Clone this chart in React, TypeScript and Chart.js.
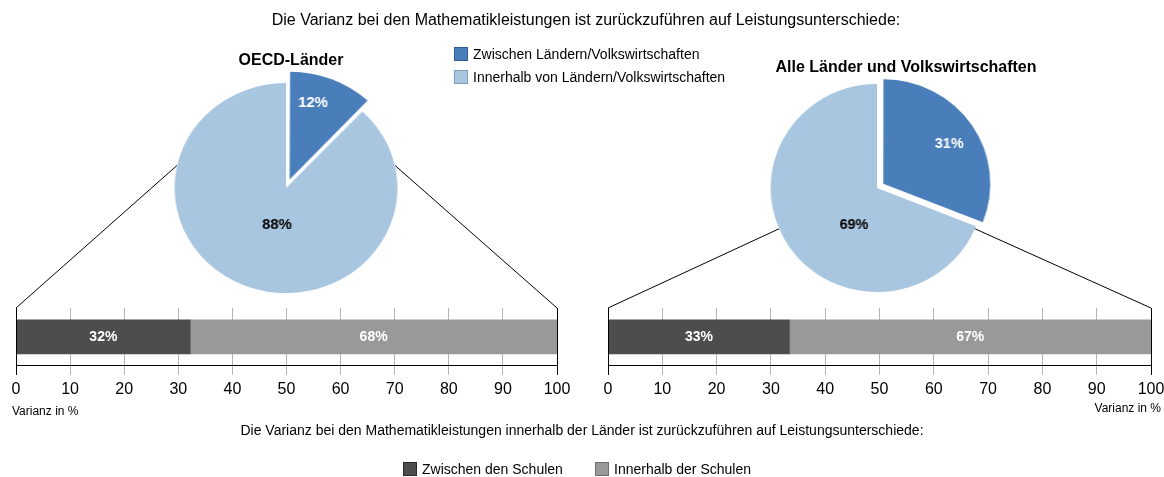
import React, { useEffect, useRef } from "react";
import { Chart, registerables } from "chart.js";

Chart.register(...registerables);

// ---------- data ----------
const mainTitle =
  "Die Varianz bei den Mathematikleistungen ist zurückzuführen auf Leistungsunterschiede:";
const subTitle =
  "Die Varianz bei den Mathematikleistungen innerhalb der Länder ist zurückzuführen auf Leistungsunterschiede:";
const pieGroups = ["OECD-Länder", "Alle Länder und Volkswirtschaften"];
const pieCategories = [
  "Zwischen Ländern/Volkswirtschaften",
  "Innerhalb von Ländern/Volkswirtschaften",
];
const oecdPieValues = [12, 88];
const allPieValues = [31, 69];
const barCategories = ["Zwischen den Schulen", "Innerhalb der Schulen"];
const oecdBarValues = [32.2, 67.8];
const allBarValues = [33.4, 66.6];
const axisTicks = [0, 10, 20, 30, 40, 50, 60, 70, 80, 90, 100];
const axisTitle = "Varianz in %";

// ---------- styles ----------
const FONT = "'Liberation Sans', Arial, Helvetica, sans-serif";
const PIE_COLORS = ["#4A7EBB", "#A9C6E0"];
const PIE_BORDERS = ["#2E5C92", "#7F9DB9"];
const BAR_COLORS = ["#4D4D4D", "#999999"];
const BAR_BORDERS = ["#2A2A2A", "#6E6E6E"];
const GRID_GREY = "#b4b4b4";
const TICK_LEN = 9;

const PIE_SIZE = 260;
const pieLayouts = [
  { cx: 286, cy: 188, radius: 105, sx: 1.063, shift: 12, elev: 12.4, labelOffsets: [[27, -85], [-9, 37]] },
  { cx: 877, cy: 188, radius: 104, sx: 1.02, shift: 8, elev: -23, labelOffsets: [[72, -44], [-23, 37]] },
];
const BAR_PAD = 20;
const barLayouts = [
  { left: 16, right: 557, top: 308 },
  { left: 608, right: 1151, top: 308 },
];
const TICK_PAD = 5;
const BAR_CANVAS_H = 96;

function offsetFor(values: number[], shift: number) {
  const total = values.reduce((a, b) => a + b, 0);
  const circ = (values[0] / total) * Math.PI * 2;
  const fix = 1 - Math.sin(Math.min(Math.PI, circ));
  return (shift * 4) / (1 + fix);
}

const pieLabelPlugin = {
  id: "pieLabels",
  afterDatasetsDraw(chart: any, _args: any, opts: any) {
    const meta = chart.getDatasetMeta(0);
    const data = chart.data.datasets[0].data as number[];
    const ctx = chart.ctx;
    ctx.save();
    ctx.font = `bold 14px ${FONT}`;
    ctx.textAlign = "center";
    ctx.textBaseline = "middle";
    meta.data.forEach((arc: any, i: number) => {
      const [dx, dy] = opts.offsets[i];
      ctx.fillStyle = opts.colors[i];
      ctx.fillText(`${Math.round(data[i])}%`, arc.x + dx / opts.sx, arc.y + dy);
    });
    ctx.restore();
  },
};

const barLabelPlugin = {
  id: "barLabels",
  afterDatasetsDraw(chart: any) {
    const ctx = chart.ctx;
    const area = chart.chartArea;
    const xs = chart.scales.x;
    ctx.save();
    // black frame lines at 0 and 100
    ctx.strokeStyle = "#000";
    ctx.lineWidth = 1;
    [xs.min, xs.max].forEach((v: number) => {
      const px = Math.round(xs.getPixelForValue(v)) + 0.5;
      ctx.beginPath();
      ctx.moveTo(px, area.top);
      ctx.lineTo(px, area.bottom + TICK_LEN);
      ctx.stroke();
    });
    ctx.font = `bold 14px ${FONT}`;
    ctx.textAlign = "center";
    ctx.textBaseline = "middle";
    ctx.fillStyle = "#fff";
    chart.data.datasets.forEach((ds: any, i: number) => {
      const el = chart.getDatasetMeta(i).data[0];
      if (!el) return;
      ctx.fillText(`${Math.round(ds.data[0])}%`, (el.x + el.base) / 2, el.y);
    });
    ctx.restore();
  },
};

function makePie(canvas: HTMLCanvasElement, values: number[], layout: any) {
  return new Chart(canvas, {
    type: "pie",
    data: {
      labels: pieCategories,
      datasets: [
        {
          data: values,
          backgroundColor: PIE_COLORS,
          borderWidth: 0,
          radius: layout.radius,
          offset: [offsetFor(values, layout.shift), 0],
          hoverOffset: 0,
        } as any,
      ],
    },
    options: {
      animation: false,
      responsive: false,
      events: [],
      layout: { padding: 0 },
      plugins: {
        legend: { display: false },
        tooltip: { enabled: false },
        pieLabels: { offsets: layout.labelOffsets, colors: ["#ffffff", "#000000"], sx: layout.sx },
      } as any,
    },
    plugins: [pieLabelPlugin],
  });
}

function makeBar(canvas: HTMLCanvasElement, values: number[]) {
  return new Chart(canvas, {
    type: "bar",
    data: {
      labels: [""],
      datasets: barCategories.map((name, i) => ({
        label: name,
        data: [values[i]],
        backgroundColor: BAR_COLORS[i],
        borderWidth: 0,
        barThickness: 34,
      })),
    },
    options: {
      indexAxis: "y",
      animation: false,
      responsive: false,
      events: [],
      layout: { padding: { left: BAR_PAD, right: BAR_PAD, top: 0, bottom: 0 } },
      plugins: { legend: { display: false }, tooltip: { enabled: false } },
      scales: {
        x: {
          type: "linear",
          stacked: true,
          min: axisTicks[0],
          max: axisTicks[axisTicks.length - 1],
          afterBuildTicks: (scale: any) => {
            scale.ticks = axisTicks.map((v) => ({ value: v }));
          },
          ticks: {
            font: { family: FONT, size: 16 },
            color: "#000",
            padding: TICK_PAD,
            maxRotation: 0,
            autoSkip: false,
          },
          grid: {
            color: (c: any) =>
              c.tick && (c.tick.value === 0 || c.tick.value === 100) ? "#000" : GRID_GREY,
            tickLength: TICK_LEN,
            lineWidth: 1,
          },
          border: { display: true, color: "#000", width: 1 },
        },
        y: { stacked: true, display: false },
      },
    } as any,
    plugins: [barLabelPlugin],
  });
}

const abs = (extra: React.CSSProperties): React.CSSProperties => ({
  position: "absolute",
  whiteSpace: "nowrap",
  lineHeight: 1,
  ...extra,
});

function Swatch({ x, y, color, border }: { x: number; y: number; color: string; border: string }) {
  return (
    <div
      style={{
        position: "absolute",
        left: x,
        top: y - 7,
        width: 12,
        height: 12,
        background: color,
        border: `1px solid ${border}`,
      }}
    />
  );
}

export default function App() {
  const overlayRef = useRef<HTMLCanvasElement>(null);
  const pie1Ref = useRef<HTMLCanvasElement>(null);
  const pie2Ref = useRef<HTMLCanvasElement>(null);
  const bar1Ref = useRef<HTMLCanvasElement>(null);
  const bar2Ref = useRef<HTMLCanvasElement>(null);

  useEffect(() => {
    const pies = [
      makePie(pie1Ref.current!, oecdPieValues, pieLayouts[0]),
      makePie(pie2Ref.current!, allPieValues, pieLayouts[1]),
    ];
    const bars = [
      makeBar(bar1Ref.current!, oecdBarValues),
      makeBar(bar2Ref.current!, allBarValues),
    ];

    // connector lines from pie edge to the ends of the bar
    const ov = overlayRef.current!;
    const ctx = ov.getContext("2d")!;
    ctx.clearRect(0, 0, ov.width, ov.height);
    ctx.strokeStyle = "#000";
    ctx.lineWidth = 1;
    pies.forEach((pie, i) => {
      const lay = pieLayouts[i];
      const arc: any = pie.getDatasetMeta(0).data[1];
      const left = lay.cx - (PIE_SIZE * lay.sx) / 2;
      const top = lay.cy - PIE_SIZE / 2;
      const pcx = left + arc.x * lay.sx;
      const pcy = top + arc.y;
      const rx = arc.outerRadius * lay.sx;
      const ry = arc.outerRadius;
      const e = (lay.elev * Math.PI) / 180;
      const bar: any = bars[i];
      const bl = barLayouts[i];
      const ox = bl.left - BAR_PAD;
      const oy = bl.top;
      const x0 = ox + bar.scales.x.getPixelForValue(0);
      const x1 = ox + bar.scales.x.getPixelForValue(100);
      const yTop = oy + bar.chartArea.top;
      ctx.beginPath();
      ctx.moveTo(x0, yTop);
      ctx.lineTo(pcx - rx * Math.cos(e), pcy - ry * Math.sin(e));
      ctx.moveTo(x1, yTop);
      ctx.lineTo(pcx + rx * Math.cos(e), pcy - ry * Math.sin(e));
      ctx.stroke();
    });

    return () => {
      pies.forEach((c) => c.destroy());
      bars.forEach((c) => c.destroy());
    };
  }, []);

  return (
    <div
      style={{
        position: "fixed",
        left: 0,
        top: 0,
        width: 1164,
        height: 477,
        overflow: "hidden",
        background: "#fff",
        fontFamily: FONT,
        color: "#000",
      }}
    >
      <canvas ref={overlayRef} width={1164} height={477} style={{ position: "absolute", left: 0, top: 0 }} />
      {[pie1Ref, pie2Ref].map((ref, i) => (
        <canvas
          key={"p" + i}
          ref={ref}
          width={PIE_SIZE}
          height={PIE_SIZE}
          style={{
            position: "absolute",
            left: pieLayouts[i].cx - (PIE_SIZE * pieLayouts[i].sx) / 2,
            top: pieLayouts[i].cy - PIE_SIZE / 2,
            width: PIE_SIZE * pieLayouts[i].sx,
            height: PIE_SIZE,
          }}
        />
      ))}
      {[bar1Ref, bar2Ref].map((ref, i) => {
        const w = barLayouts[i].right - barLayouts[i].left + 2 * BAR_PAD;
        return (
          <canvas
            key={"b" + i}
            ref={ref}
            width={w}
            height={BAR_CANVAS_H}
            style={{
              position: "absolute",
              left: barLayouts[i].left - BAR_PAD,
              top: barLayouts[i].top,
              width: w,
              height: BAR_CANVAS_H,
            }}
          />
        );
      })}

      <div style={abs({ left: 586, top: 20, fontSize: 16, transform: "translate(-50%,-50%)" })}>{mainTitle}</div>
      <div style={abs({ left: 291, top: 60, fontSize: 16, fontWeight: "bold", transform: "translate(-50%,-50%)" })}>
        {pieGroups[0]}
      </div>
      <div style={abs({ left: 906, top: 67, fontSize: 16, fontWeight: "bold", transform: "translate(-50%,-50%)" })}>
        {pieGroups[1]}
      </div>

      {pieCategories.map((name, i) => (
        <React.Fragment key={"pl" + i}>
          <Swatch x={454} y={54 + i * 23} color={PIE_COLORS[i]} border={PIE_BORDERS[i]} />
          <div style={abs({ left: 473, top: 54 + i * 23, fontSize: 14, transform: "translateY(-50%)" })}>{name}</div>
        </React.Fragment>
      ))}

      <div style={abs({ left: 12, top: 411, fontSize: 12, transform: "translateY(-50%)" })}>{axisTitle}</div>
      <div style={abs({ right: 3, top: 408, fontSize: 12, transform: "translateY(-50%)" })}>{axisTitle}</div>
      <div style={abs({ left: 582, top: 430, fontSize: 14, transform: "translate(-50%,-50%)" })}>{subTitle}</div>

      {barCategories.map((name, i) => (
        <React.Fragment key={"bl" + i}>
          <Swatch x={[403, 595][i]} y={469} color={BAR_COLORS[i]} border={BAR_BORDERS[i]} />
          <div style={abs({ left: [422, 614][i], top: 469, fontSize: 14, transform: "translateY(-50%)" })}>{name}</div>
        </React.Fragment>
      ))}
    </div>
  );
}
